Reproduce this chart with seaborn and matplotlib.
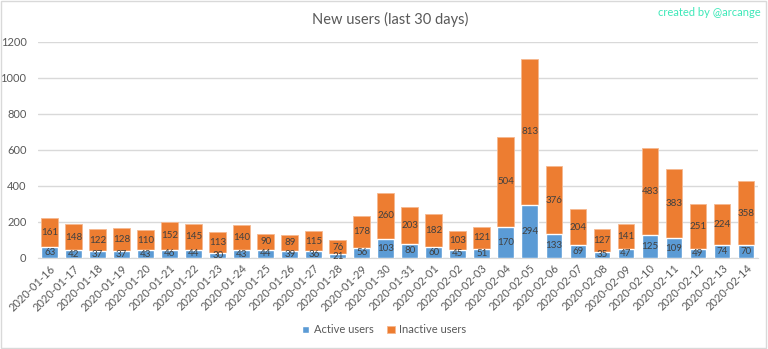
import matplotlib
matplotlib.use("Agg")
import matplotlib.pyplot as plt
import seaborn as sns
import pandas as pd
import numpy as np

dates = ["2020-01-16", "2020-01-17", "2020-01-18", "2020-01-19", "2020-01-20",
         "2020-01-21", "2020-01-22", "2020-01-23", "2020-01-24", "2020-01-25",
         "2020-01-26", "2020-01-27", "2020-01-28", "2020-01-29", "2020-01-30",
         "2020-01-31", "2020-02-01", "2020-02-02", "2020-02-03", "2020-02-04",
         "2020-02-05", "2020-02-06", "2020-02-07", "2020-02-08", "2020-02-09",
         "2020-02-10", "2020-02-11", "2020-02-12", "2020-02-13", "2020-02-14"]
active = [63, 42, 37, 37, 43, 46, 44, 30, 43, 44, 39, 36, 21, 56, 103,
          80, 60, 45, 51, 170, 294, 133, 69, 35, 47, 125, 109, 49, 74, 70]
inactive = [161, 148, 122, 128, 110, 152, 145, 113, 140, 90, 89, 115, 76, 178, 260,
            203, 182, 103, 121, 504, 813, 376, 204, 127, 141, 483, 383, 251, 224, 358]

BLUE = "#5B9BD5"
ORANGE = "#ED7D31"

df = pd.DataFrame({"date": dates, "active": active, "inactive": inactive})
df["total"] = df["active"] + df["inactive"]

sns.set_style("white")
plt.rcParams["font.family"] = ["Lato", "DejaVu Sans"]

fig = plt.figure(figsize=(7.68, 3.49), dpi=100)
ax = fig.add_axes([0.049, 0.261, 0.938, 0.619])

sns.barplot(data=df, x="date", y="total", color=ORANGE, saturation=1, width=0.7,
            ax=ax, label="Inactive users", zorder=2, edgecolor="#F5B88F", linewidth=0.6)
sns.barplot(data=df, x="date", y="active", color=BLUE, saturation=1, width=0.7,
            ax=ax, label="Active users", zorder=3)

for i, (a, b) in enumerate(zip(active, inactive)):
    ax.text(i, a / 2, str(a), ha="center", va="center", fontsize=7, color="#404040", zorder=4)
    ax.text(i, a + b / 2, str(b), ha="center", va="center", fontsize=7, color="#404040", zorder=4)

ax.set_ylim(0, 1200)
ax.set_yticks(range(0, 1201, 200))
ax.yaxis.grid(True, color="#D9D9D9", linewidth=1)
ax.set_axisbelow(True)
ax.set_xlim(-0.5, len(dates) - 0.5)
for s in ["top", "right", "left"]:
    ax.spines[s].set_visible(False)
ax.spines["bottom"].set_color("#D9D9D9")
ax.set_xlabel("")
ax.set_ylabel("")
ax.tick_params(axis="y", labelsize=8, colors="#595959", length=0, pad=8)
ax.tick_params(axis="x", labelsize=8, colors="#595959", length=0)
plt.setp(ax.get_xticklabels(), rotation=45, ha="right", rotation_mode="anchor")

handles, labels = ax.get_legend_handles_labels()
order = [labels.index("Active users"), labels.index("Inactive users")]
fig.legend([handles[k] for k in order], [labels[k] for k in order],
           loc="center", bbox_to_anchor=(0.5, 0.055), ncol=2, frameon=False,
           fontsize=8, handlelength=0.7, handleheight=0.7, columnspacing=1.2,
           handletextpad=0.4, labelcolor="#595959")
if ax.get_legend() is not None:
    ax.get_legend().remove()

fig.text(0.508, 0.945, "New users (last 30 days)", ha="center", va="center",
         fontsize=10.5, color="#595959")
fig.text(0.99, 0.965, "created by @arcange", ha="right", va="center",
         fontsize=8, color="#3DE8B8")

fig.patches.append(plt.Rectangle((0.001, 0.003), 0.997, 0.994, transform=fig.transFigure,
                                 fill=False, edgecolor="#D9D9D9", linewidth=1))

fig.savefig("out.png", dpi=100)
